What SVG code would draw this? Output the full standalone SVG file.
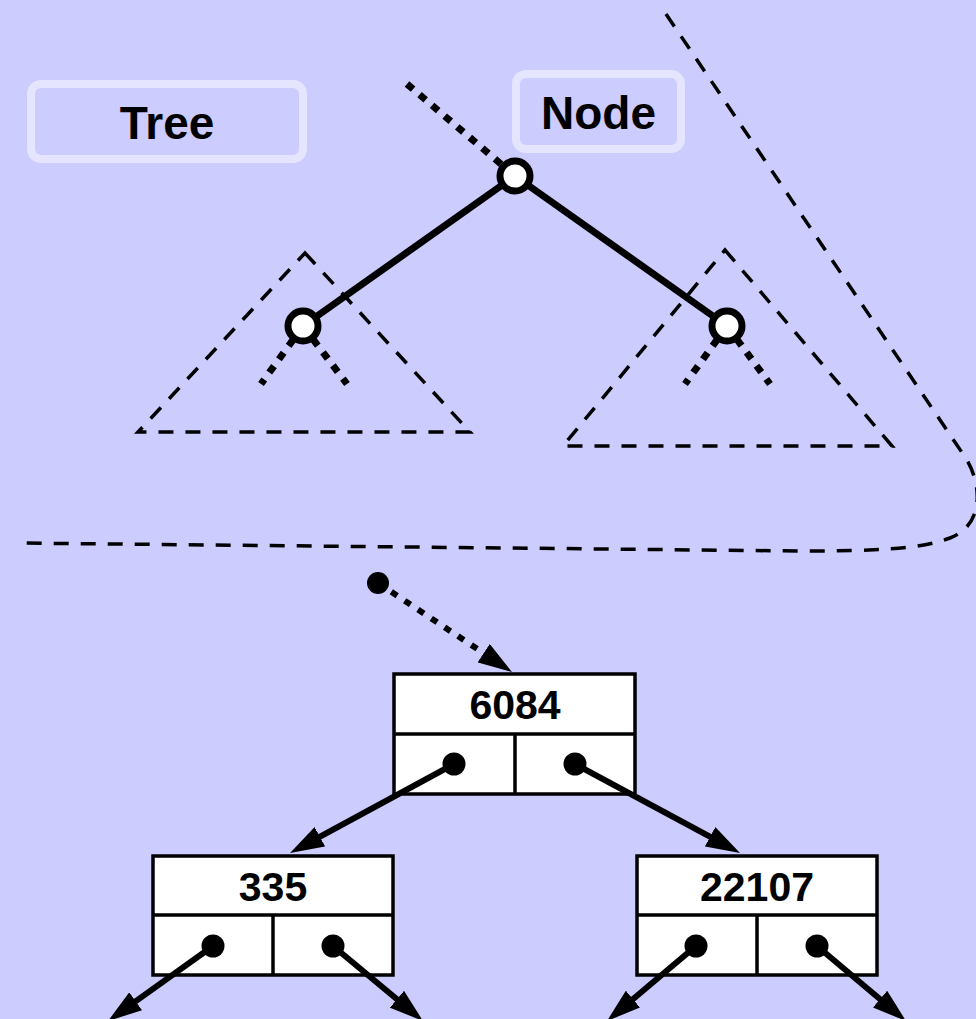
<svg xmlns="http://www.w3.org/2000/svg" width="976" height="1019" viewBox="0 0 976 1019">
<defs>
<style>
.lbl{fill:none;stroke:#e5e5ff;stroke-width:8}
.lt{font-family:"Liberation Sans",Arial,sans-serif;font-weight:bold;font-size:46px;fill:#000;text-anchor:middle}
.nt{font-family:"Liberation Sans",Arial,sans-serif;font-weight:bold;font-size:41px;fill:#000;text-anchor:middle}
.dash{fill:none;stroke:#000;stroke-width:3.5;stroke-dasharray:15,12}
.dot{fill:none;stroke:#000;stroke-width:7;stroke-dasharray:8,8.5}
.edge{fill:none;stroke:#000;stroke-width:7}
.tn{fill:#fff;stroke:#000;stroke-width:7}
.box{fill:#fff;stroke:#000;stroke-width:3.5}
.div{stroke:#000;stroke-width:3.5}
.ptr{fill:none;stroke:#000;stroke-width:6;marker-end:url(#ah)}
.dptr{fill:none;stroke:#000;stroke-width:6;stroke-dasharray:7,9;marker-end:url(#ah)}
</style>
<marker id="ah" markerUnits="userSpaceOnUse" markerWidth="34" markerHeight="22" refX="4" refY="11" orient="auto" viewBox="0 0 34 22">
<path d="M0,0 L34,11 L0,22 Z" fill="#000"/>
</marker>
</defs>
<rect x="0" y="0" width="976" height="1019" fill="#ccccff"/>

<g id="separator">
<path class="dash" d="M666 14 L965 457 C982 483 985 525 950 538 C920 549 880 551 800 551 L15 543"/>
</g>

<g id="subtree-left">
<path class="dash" d="M305 253 L470 432 L138 432 Z"/>
</g>
<g id="subtree-right">
<path class="dash" d="M725 250 L892 446 L563 446 Z"/>
</g>

<g id="connectors">
<line class="dot" x1="407" y1="84" x2="515" y2="176"/>
<line class="edge" x1="515" y1="176" x2="303" y2="326"/>
<line class="edge" x1="515" y1="176" x2="727" y2="326"/>
<line class="dot" x1="303" y1="326" x2="261" y2="384"/>
<line class="dot" x1="303" y1="326" x2="347" y2="384"/>
<line class="dot" x1="727" y1="326" x2="685" y2="384"/>
<line class="dot" x1="727" y1="326" x2="770" y2="384"/>
<line class="dptr" x1="378" y1="583" x2="487" y2="655.4"/>
</g>

<g id="label-tree">
<rect class="lbl" x="31" y="84" width="272" height="75" rx="10"/>
<text class="lt" x="167" y="139">Tree</text>
</g>
<g id="label-node">
<rect class="lbl" x="516" y="74" width="165" height="75" rx="10"/>
<text class="lt" x="598.5" y="129">Node</text>
</g>

<g id="tree-root"><circle class="tn" cx="515" cy="176" r="15"/></g>
<g id="tree-left"><circle class="tn" cx="303" cy="326" r="15"/></g>
<g id="tree-right"><circle class="tn" cx="727" cy="326" r="15"/></g>

<g id="entry"><circle cx="378" cy="583" r="11" fill="#000"/></g>

<g id="node-6084">
<rect class="box" x="394" y="674" width="241" height="120"/>
<line class="div" x1="394" y1="734" x2="635" y2="734"/>
<line class="div" x1="515" y1="734" x2="515" y2="794"/>
<text class="nt" x="515" y="719">6084</text>
</g>
<g id="node-335">
<rect class="box" x="153" y="856" width="240" height="119"/>
<line class="div" x1="153" y1="915" x2="393" y2="915"/>
<line class="div" x1="273" y1="915" x2="273" y2="975"/>
<text class="nt" x="273" y="901">335</text>
</g>
<g id="node-22107">
<rect class="box" x="637" y="856" width="240" height="119"/>
<line class="div" x1="637" y1="915" x2="877" y2="915"/>
<line class="div" x1="757" y1="915" x2="757" y2="975"/>
<text class="nt" x="757" y="901">22107</text>
</g>

<g id="pointers">
<line class="ptr" x1="454" y1="764" x2="316.4" y2="838.7"/>
<line class="ptr" x1="575" y1="764" x2="713.6" y2="838.7"/>
<line class="ptr" x1="213" y1="946" x2="132.4" y2="1003.6"/>
<line class="ptr" x1="333" y1="946" x2="400" y2="1001.8"/>
<line class="ptr" x1="696" y1="946" x2="629.9" y2="1001.7"/>
<line class="ptr" x1="817" y1="946" x2="883.1" y2="1001.7"/>
<circle cx="454" cy="764" r="11.5" fill="#000"/>
<circle cx="575" cy="764" r="11.5" fill="#000"/>
<circle cx="213" cy="946" r="11.5" fill="#000"/>
<circle cx="333" cy="946" r="11.5" fill="#000"/>
<circle cx="696" cy="946" r="11.5" fill="#000"/>
<circle cx="817" cy="946" r="11.5" fill="#000"/>
</g>
</svg>
